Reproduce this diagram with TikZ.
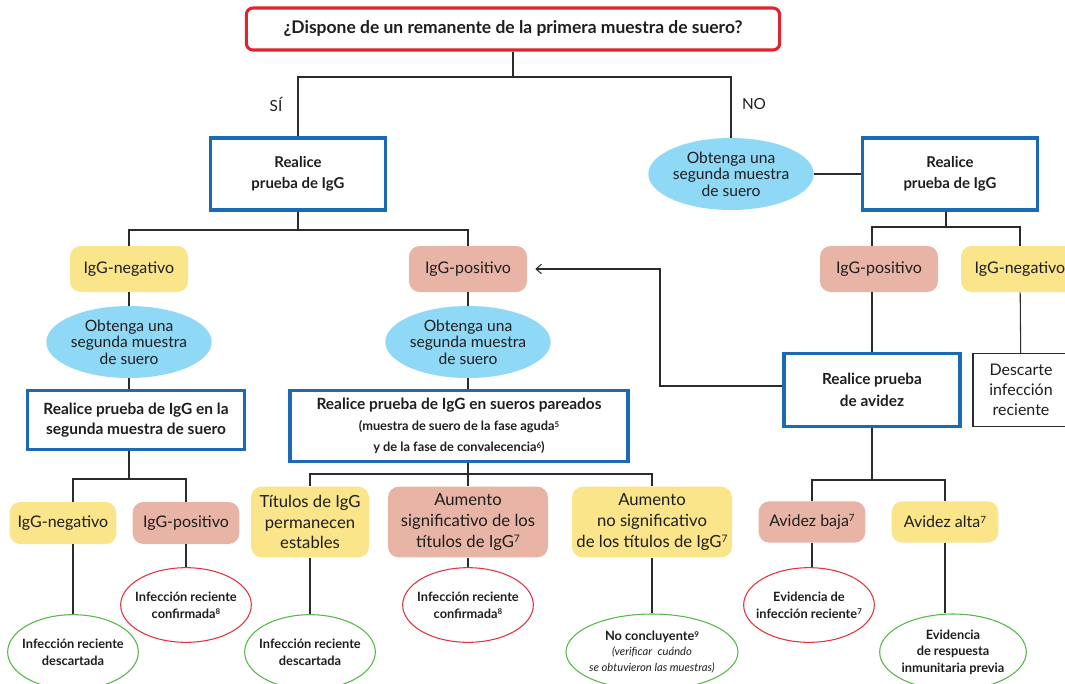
\documentclass[tikz,border=0pt]{standalone}
\usepackage{fontspec}
\setmainfont{Lato}
\usetikzlibrary{
    arrows.meta,
    shapes.geometric,
    calc
}
\definecolor{qred}{HTML}{E2232F}
\definecolor{tblue}{HTML}{1A6AB4}
\definecolor{skyfill}{HTML}{8FD8F6}
\definecolor{negfill}{HTML}{FAE58A}
\definecolor{posfill}{HTML}{E8B4A6}
\definecolor{okgreen}{HTML}{55B848}
\definecolor{badred}{HTML}{E2333C}
\definecolor{wire}{HTML}{2B2B2B}
\definecolor{ink}{HTML}{1E1E1E}
\newcommand{\fnote}[1]{\raisebox{0.55ex}{\scalebox{0.62}{#1}}}
\tikzset {
    wire/.style = {draw = wire, line width = 0.8pt},
    question/.style = {
        draw = qred, line width = 2.3pt, rounded corners = 5pt, fill = white,
        minimum width = 400pt, minimum height = 31.5pt, inner sep = 0pt,
        text = ink, font = \bfseries\fontsize{13.1}{15}\selectfont
    },
    test box/.style = {
        draw = tblue, line width = 2.6pt, fill = white, align = center,
        inner sep = 0pt, text = ink, font = \bfseries\fontsize{11.2}{15.5}\selectfont
    },
    plain box/.style = {
        draw = wire, line width = 0.8pt, fill = white, align = center,
        inner sep = 0pt, text = ink, font = \fontsize{12}{15}\selectfont
    },
    sample/.style = {
        ellipse, fill = skyfill, minimum width = 124pt, minimum height = 54pt,
        inner sep = -10pt, align = center, text = ink,
        font = \fontsize{11.7}{12.5}\selectfont
    },
    tag/.style = {
        rounded corners = 8pt, inner sep = 0pt, align = center, text = ink,
        minimum width = 88.5pt, minimum height = 34.5pt,
        font = \fontsize{12}{15}\selectfont
    },
    neg tag/.style = {tag, fill = negfill},
    pos tag/.style = {tag, fill = posfill},
    outcome/.style = {
        ellipse, draw, line width = 0.8pt, fill = white,
        minimum width = 98pt, minimum height = 56pt,
        inner sep = -10pt, align = center, text = ink,
        font = \bfseries\fontsize{9.6}{12.5}\selectfont
    },
    good/.style = {outcome, draw = okgreen},
    bad/.style = {outcome, draw = badred},
    branch/.style = {text = ink, font = \fontsize{11.5}{14}\selectfont}
}
\begin{document}
\begin{tikzpicture}[x = 0.75pt, y = -0.75pt]
    \useasboundingbox (0, 0) rectangle (1065, 683);
    \node (q) [question] at (513, 29) {¿Dispone de un remanente de la primera muestra de suero?};
    \node (rl) [test box, minimum width = 131pt, minimum height = 54pt] at (298, 174) {Realice\\prueba de IgG};
    \node (o1) [sample] at (731, 174) {Obtenga una\\segunda muestra\\de suero};
    \node (rr) [test box, minimum width = 131pt, minimum height = 54pt] at (950, 174) {Realice\\prueba de IgG};
    \node (si) [branch] at (276, 104) {SÍ};
    \node (no) [branch] at (754, 104) {NO};
    \coordinate (s1) at (513, 77);
    \draw [wire] (q) -- (s1) -| (rl);
    \draw [wire] (s1) -| (o1);
    \draw [wire] (o1) -- (rr);

    \node (n1) [neg tag] at (129, 269) {IgG-negativo};
    \node (p1) [pos tag] at (468, 269) {IgG-positivo};
    \coordinate (s2) at (298, 230);
    \draw [wire] (rl) -- (s2);
    \draw [wire] (s2) -| (n1);
    \draw [wire] (s2) -| (p1);

    \node (ob1) [sample] at (129, 342) {Obtenga una\\segunda muestra\\de suero};
    \node (t1) [test box, minimum width = 163pt, minimum height = 44pt, font = \bfseries\fontsize{11.6}{15}\selectfont] at (136, 420) {Realice prueba de IgG en la\\segunda muestra de suero};
    \draw [wire] (n1) -- (ob1);
    \draw [wire] (ob1) -- (ob1 |- t1.north);
    \coordinate (s3) at (129, 479);
    \draw [wire] (s3 |- t1.south) -- (s3);
    \node (n2) [neg tag, minimum width = 80pt, minimum height = 31.5pt] at (63, 523) {IgG-negativo};
    \node (p2) [pos tag, minimum width = 80pt, minimum height = 31.5pt] at (186, 523) {IgG-positivo};
    \node (x1) [good] at (73, 652) {Infección reciente\\descartada};
    \node (c1) [bad] at (186, 605) {Infección reciente\\confirmada\fnote{8}};
    \draw [wire] (s3) -| (x1 |- n2.north);
    \draw [wire] (s3) -| (p2);
    \draw [wire] (x1 |- n2.south) -- (x1);
    \draw [wire] (p2) -- (c1);

    \node (ob2) [sample] at (468, 342) {Obtenga una\\segunda muestra\\de suero};
    \node (t2) [test box, minimum width = 253.5pt, minimum height = 53pt, font = \bfseries\fontsize{9.6}{15.8}\selectfont] at (459, 426) {{\fontsize{11.6}{15}\selectfont Realice prueba de IgG en sueros pareados}\\(muestra de suero de la fase aguda\fnote{5}\\y de la fase de convalecencia\fnote{6})};
    \draw [wire] (p1) -- (ob2);
    \draw [wire] (ob2) -- (ob2 |- t2.north);
    \coordinate (s4) at (468, 474);
    \draw [wire] (s4 |- t2.south) -- (s4);
    \node (ti) [neg tag, minimum height = 53pt, font = \fontsize{12.5}{15.5}\selectfont] at (310, 522) {Títulos de IgG\\permanecen\\estables};
    \node (as) [pos tag, minimum width = 120pt, minimum height = 53pt, font = \fontsize{12.5}{15.5}\selectfont] at (468, 522) {Aumento\\significativo de los\\títulos de IgG\fnote{7}};
    \node (an) [neg tag, minimum width = 120pt, minimum height = 53pt, font = \fontsize{12.5}{15.5}\selectfont] at (652, 522) {Aumento\\no significativo\\de los títulos de IgG\fnote{7}};
    \draw [wire] (s4) -| (ti);
    \draw [wire] (s4) -- (as);
    \draw [wire] (s4) -| (an);
    \node (x2) [good] at (310, 652) {Infección reciente\\descartada};
    \node (c2) [bad] at (468, 605) {Infección reciente\\confirmada\fnote{8}};
    \node (nc) [good, minimum width = 129pt, minimum height = 57pt, font = \itshape\fontsize{8.4}{11.5}\selectfont] at (652, 652) {{\bfseries\upshape\fontsize{9.6}{12}\selectfont No concluyente\fnote{9}}\\(verificar\ \ cuándo\\se obtuvieron las muestras)};
    \draw [wire] (ti) -- (x2);
    \draw [wire] (as) -- (c2);
    \draw [wire] (an) -- (nc);

    \node (av) [test box, minimum width = 132pt, minimum height = 55pt, font = \bfseries\fontsize{11.5}{16}\selectfont] at (872, 390) {Realice prueba\\de avidez};
    \node (p3) [pos tag] at (879, 269) {IgG-positivo};
    \node (n3) [neg tag] at (1020, 269) {IgG-negativo};
    \node (ds) [plain box, minimum width = 72pt, minimum height = 55pt] at (1021, 390) {Descarte\\infección\\reciente};
    \coordinate (s5) at (946, 227);
    \draw [wire] (s5 |- rr.south) -- (s5);
    \draw [wire] (s5) -| (av |- p3.north);
    \draw [wire] (s5) -| (n3);
    \draw [wire] (av |- p3.south) -- (av);
    \draw [wire] (n3) -- (ds);
    \coordinate (back) at (660, 386);
    \draw [wire, arrows = {-Straight Barb[length = 4pt, width = 7pt]}, shorten > = 6pt] (av.west |- back) -- (back) |- (p1.east);

    \coordinate (s6) at (872, 480);
    \node (lo) [pos tag, minimum width = 80pt, minimum height = 31pt] at (812, 522) {Avidez baja\fnote{7}};
    \node (hi) [neg tag, minimum width = 80pt, minimum height = 31pt] at (945, 522) {Avidez alta\fnote{7}};
    \node (e1) [bad] at (809, 605) {Evidencia de\\infección reciente\fnote{7}};
    \node (e2) [good, minimum width = 110pt, minimum height = 57pt] at (953, 652) {Evidencia\\de respuesta\\inmunitaria previa};
    \draw [wire] (av) -- (s6);
    \draw [wire] (s6) -| (lo);
    \draw [wire] (s6) -| (hi);
    \draw [wire] (lo) -- (lo |- e1.north);
    \draw [wire] (hi) -- (hi |- e2.north);
\end{tikzpicture}
\end{document}
